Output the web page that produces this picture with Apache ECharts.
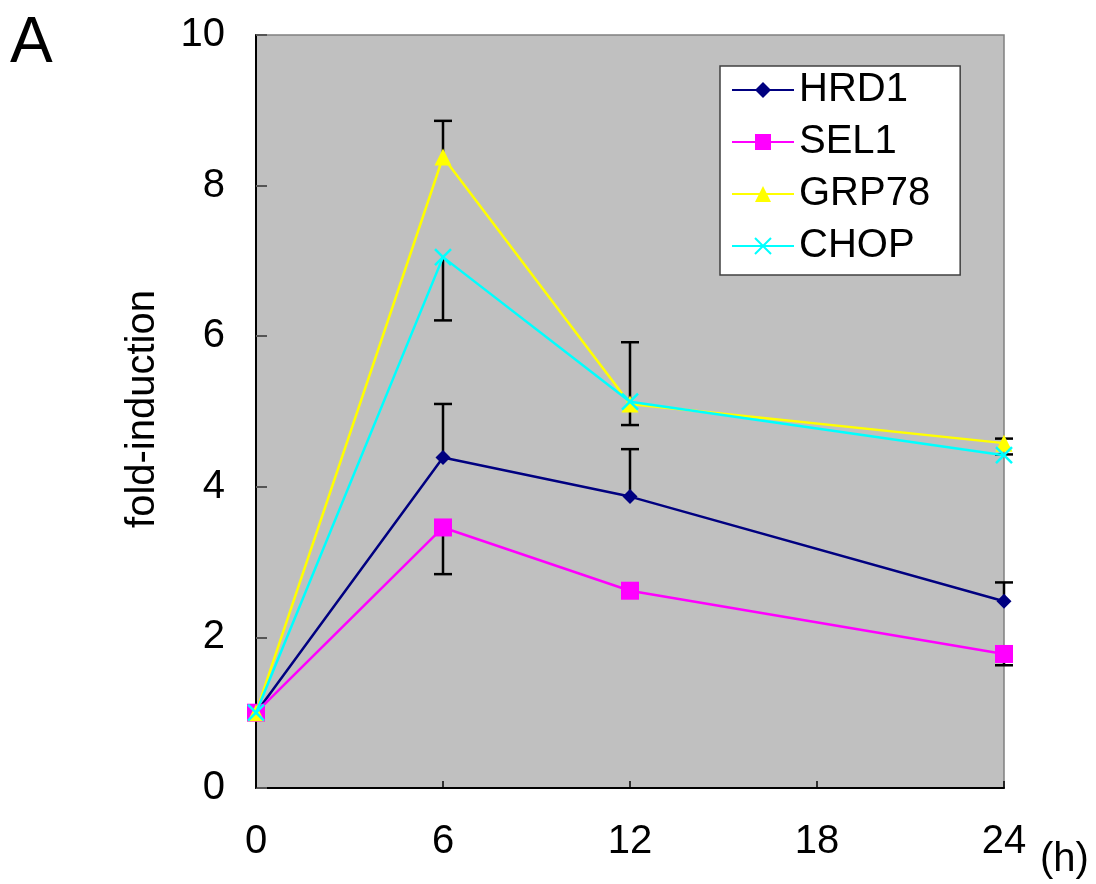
<!DOCTYPE html>
<html>
<head>
<meta charset="utf-8">
<script src="https://cdn.jsdelivr.net/npm/echarts@6/dist/echarts.min.js"></script>
<style>
html,body{margin:0;padding:0;background:#fff;}
#chart{width:1096px;height:884px;}
</style>
</head>
<body>
<div id="chart"></div>
<script>
// Time points (h)
const hours = [0, 6, 12, 24];
const xTicks = [0, 6, 12, 18, 24];
const yTicks = [0, 2, 4, 6, 8, 10];
// Fold-induction values
const hrd1 = [1.0, 4.39, 3.87, 2.48];
const sel1 = [1.0, 3.46, 2.62, 1.78];
const grp78 = [1.0, 8.38, 5.10, 4.58];
const chop = [1.0, 7.05, 5.13, 4.42];
// Error bars: [hour, series value, cap end]
const hrd1Err = [[6, 4.39, 5.10], [12, 3.87, 4.50], [24, 2.48, 2.73]];
const sel1Err = [[6, 3.46, 2.84], [24, 1.78, 1.63]];
const grp78Err = [[6, 8.38, 8.86], [12, 5.10, 5.92], [24, 4.58, 4.64]];
const chopErr = [[6, 7.05, 6.21], [12, 5.13, 4.82], [24, 4.42, 4.43]];

const FONT = 'Liberation Sans, Arial, Helvetica, sans-serif';
const pairs = v => hours.map((h, i) => [h, v[i]]);
const crossPath = 'path://M0,0L10,10M10,0L0,10';

function errOneSided(list) {
  return {
    type: 'custom',
    silent: true,
    z: 1,
    data: list,
    renderItem: function (params, api) {
      const x = api.value(0);
      const lo = api.coord([x, api.value(1)]);
      const hi = api.coord([x, api.value(2)]);
      const capW = 9;
      return {
        type: 'group',
        children: [
          { type: 'line', shape: { x1: lo[0], y1: lo[1], x2: hi[0], y2: hi[1] },
            style: { stroke: '#000', lineWidth: 2.5 } },
          { type: 'line', shape: { x1: hi[0] - capW, y1: hi[1], x2: hi[0] + capW, y2: hi[1] },
            style: { stroke: '#000', lineWidth: 2.5 } }
        ]
      };
    }
  };
}

const chart = echarts.init(document.getElementById('chart'), null, { renderer: 'canvas' });
const option = {
  backgroundColor: '#ffffff',
  animation: false,
  textStyle: { fontFamily: FONT },
  grid: {
    left: 256, top: 35, width: 748, height: 753,
    show: true, backgroundColor: '#C0C0C0', borderColor: '#808080', borderWidth: 1.5
  },
  xAxis: {
    type: 'value', min: 0, max: 24, interval: 6,
    axisLine: { show: true, onZero: false, lineStyle: { color: '#000', width: 2 } },
    axisTick: { show: true, inside: true, length: 7, lineStyle: { color: '#000', width: 1.5 } },
    splitLine: { show: false },
    axisLabel: { color: '#000', fontSize: 40, fontFamily: FONT, margin: 34,
      formatter: v => xTicks.includes(v) ? String(v) : '' }
  },
  yAxis: {
    type: 'value', min: 0, max: 10, interval: 2,
    axisLine: { show: true, lineStyle: { color: '#000', width: 2 } },
    axisTick: { show: true, inside: true, length: 11, lineStyle: { color: '#555', width: 2 } },
    splitLine: { show: false },
    axisLabel: { color: '#000', fontSize: 40, fontFamily: FONT, margin: 31,
      formatter: v => yTicks.includes(v) ? String(v) : '' }
  },
  legend: {
    orient: 'vertical',
    left: 720, top: 66, width: 233,
    backgroundColor: '#ffffff', borderColor: '#404040', borderWidth: 1.5,
    padding: [4, 30, 9, 11],
    itemWidth: 62, itemHeight: 20, itemGap: 12,
    textStyle: { color: '#000', fontSize: 40, fontFamily: FONT, lineHeight: 40 },
    data: ['HRD1', 'SEL1', 'GRP78', 'CHOP']
  },
  graphic: [
    { type: 'text', left: 10, top: 12, style: { text: 'A', fontSize: 64, fontFamily: FONT, fill: '#000' } },
    { type: 'text', left: 1040, top: 840, style: { text: '(h)', fontSize: 40, fontFamily: FONT, fill: '#000' } },
    { type: 'text', x: 143, y: 409, rotation: Math.PI / 2,
      style: { text: 'fold-induction', fontSize: 40, fontFamily: FONT, fill: '#000', align: 'center', verticalAlign: 'middle' } }
  ],
  series: [
    errOneSided(hrd1Err),
    errOneSided(sel1Err),
    errOneSided(grp78Err),
    errOneSided(chopErr),
    {
      name: 'HRD1', type: 'line', data: pairs(hrd1), z: 3,
      symbol: 'diamond', symbolSize: 15,
      lineStyle: { color: '#000080', width: 2.5 },
      itemStyle: { color: '#000080' }
    },
    {
      name: 'SEL1', type: 'line', data: pairs(sel1), z: 4,
      symbol: 'rect', symbolSize: 18,
      lineStyle: { color: '#FF00FF', width: 2.5 },
      itemStyle: { color: '#FF00FF' }
    },
    {
      name: 'GRP78', type: 'line', data: pairs(grp78), z: 5,
      symbol: 'triangle', symbolSize: 17,
      lineStyle: { color: '#FFFF00', width: 2.5 },
      itemStyle: { color: '#FFFF00' }
    },
    {
      name: 'CHOP', type: 'line', data: pairs(chop), z: 6,
      symbol: crossPath, symbolSize: 16,
      lineStyle: { color: '#00FFFF', width: 2.5 },
      itemStyle: { color: '#00FFFF', borderColor: '#00FFFF', borderWidth: 2.5 }
    }
  ]
};
chart.setOption(option);
</script>
</body>
</html>
